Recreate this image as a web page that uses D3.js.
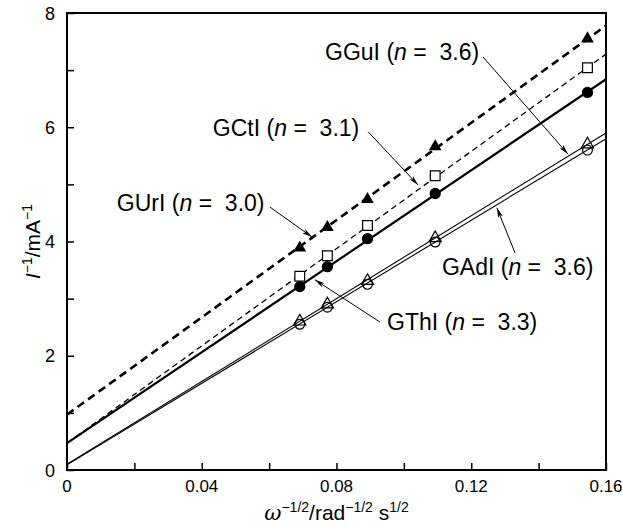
<!DOCTYPE html>
<html>
<head>
<meta charset="utf-8">
<script src="https://cdn.jsdelivr.net/npm/d3@7"></script>
<style>
  body { margin: 0; background: #fff; }
  svg { display: block; font-family: "Liberation Sans", Arial, sans-serif; }
</style>
</head>
<body>
<svg id="chart" width="622" height="530"></svg>
<script>
// rotation rates 2000..400 rpm -> omega^-1/2
const xValues = [0.0691, 0.0773, 0.0892, 0.1093, 0.1545];

const seriesNames = ["GUrI", "GCtI", "GGuI", "GAdI", "GThI"];
const seriesValues = [
  [3.89, 4.25, 4.74, 5.66, 7.55],
  [3.39, 3.75, 4.28, 5.15, 7.04],
  [3.21, 3.56, 4.05, 4.84, 6.61],
  [2.60, 2.90, 3.31, 4.06, 5.70],
  [2.55, 2.85, 3.25, 3.99, 5.60]
];
// fitted lines: value at x = 0 and x = 0.16
const fitStart = [0.97, 0.47, 0.47, 0.10, 0.09];
const fitEnd = [7.78, 7.28, 6.84, 5.90, 5.80];
const nValues = ["3.0", "3.1", "3.6", "3.6", "3.3"];

const xTicks = [0, 0.04, 0.08, 0.12, 0.16];
const yTicks = [0, 2, 4, 6, 8];

// label anchor and arrow (from -> to) in data units
const labelPos = [[0.0148, 4.53], [0.0433, 5.85], [0.0766, 7.18], [0.1113, 3.41], [0.095, 2.45]];
const arrowFrom = [[0.0603, 4.60], [0.0894, 5.92], [0.1235, 7.23], [0.133, 3.80], [0.0929, 2.59]];
const arrowTo = [[0.0727, 4.08], [0.1042, 4.99], [0.1487, 5.53], [0.1276, 4.59], [0.0736, 3.33]];

const width = 622;
const height = 530;
const margin = { top: 13, right: 16, bottom: 60, left: 67 };

const svg = d3.select("#chart");

const x = d3.scaleLinear().domain([0, 0.16]).range([margin.left, width - margin.right]);
const y = d3.scaleLinear().domain([0, 8]).range([height - margin.bottom, margin.top]);

// line styles per series
const styles = [
  { width: 2.6, dash: "8 5" },
  { width: 1.3, dash: "6 4" },
  { width: 2.2, dash: null },
  { width: 1.1, dash: null },
  { width: 1.1, dash: null }
];
const markers = [
  { type: d3.symbolTriangle, size: 70, fill: "#000" },
  { type: d3.symbolSquare, size: 95, fill: "#fff" },
  { type: d3.symbolCircle, size: 100, fill: "#000" },
  { type: d3.symbolTriangle, size: 65, fill: "none" },
  { type: d3.symbolCircle, size: 75, fill: "none" }
];

svg.append("defs")
  .append("marker")
  .attr("id", "arrow")
  .attr("viewBox", "0 0 12 6")
  .attr("refX", 12)
  .attr("refY", 3)
  .attr("markerWidth", 11)
  .attr("markerHeight", 5)
  .attr("markerUnits", "userSpaceOnUse")
  .attr("orient", "auto")
  .append("path")
  .attr("d", "M0,0 L12,3 L0,6 L3,3 Z")
  .attr("fill", "#000");

// fitted lines
const fitLine = d3.line().x((d) => x(d[0])).y((d) => y(d[1]));
svg.append("g")
  .selectAll("path")
  .data(seriesNames)
  .join("path")
  .attr("fill", "none")
  .attr("stroke", "#000")
  .attr("stroke-width", (d, i) => styles[i].width)
  .attr("stroke-dasharray", (d, i) => styles[i].dash)
  .attr("d", (d, i) => fitLine([[0, fitStart[i]], [0.16, fitEnd[i]]]));

// data markers
seriesNames.forEach((name, i) => {
  const m = markers[i];
  svg.append("g")
    .selectAll("path")
    .data(seriesValues[i])
    .join("path")
    .attr("transform", (v, j) => `translate(${x(xValues[j])},${y(v)})`)
    .attr("d", d3.symbol().type(m.type).size(m.size))
    .attr("fill", m.fill)
    .attr("stroke", "#000")
    .attr("stroke-width", m.fill === "#000" ? 0 : 1.2);
});

// axes (ticks inside)
const xAxis = svg.append("g")
  .attr("transform", `translate(0,${y(0)})`)
  .call(d3.axisBottom(x).tickValues(d3.range(0, 0.1601, 0.02)).tickSize(-7).tickFormat(""));
xAxis.select(".domain").remove();
xAxis.selectAll("line").attr("stroke-width", 1.5);

const yAxis = svg.append("g")
  .attr("transform", `translate(${x(0)},0)`)
  .call(d3.axisLeft(y).tickValues(d3.range(0, 8.01, 1)).tickSize(-7).tickFormat(""));
yAxis.select(".domain").remove();
yAxis.selectAll("line").attr("stroke-width", 1.5);

svg.append("g")
  .selectAll("text")
  .data(xTicks)
  .join("text")
  .attr("x", (d) => x(d))
  .attr("y", y(0) + 22)
  .attr("text-anchor", "middle")
  .attr("font-size", 17)
  .text((d) => (d === 0 ? "0" : d3.format(".2f")(d)));

svg.append("g")
  .selectAll("text")
  .data(yTicks)
  .join("text")
  .attr("x", x(0) - 12)
  .attr("y", (d) => y(d) + 6.5)
  .attr("text-anchor", "end")
  .attr("font-size", 18)
  .text((d) => d);

// frame
svg.append("rect")
  .attr("x", x(0))
  .attr("y", y(8))
  .attr("width", x(0.16) - x(0))
  .attr("height", y(0) - y(8))
  .attr("fill", "none")
  .attr("stroke", "#000")
  .attr("stroke-width", 2);

// axis titles
const xTitle = svg.append("text")
  .attr("x", (x(0) + x(0.16)) / 2)
  .attr("y", 520)
  .attr("text-anchor", "middle")
  .attr("font-size", 21);
xTitle.append("tspan").attr("font-family", "DejaVu Serif").attr("font-style", "italic").text("ω");
xTitle.append("tspan").attr("font-size", 14).attr("dy", -8).text("−1/2");
xTitle.append("tspan").attr("dy", 8).text("/rad");
xTitle.append("tspan").attr("font-size", 14).attr("dy", -8).text("−1/2");
xTitle.append("tspan").attr("dy", 8).text(" s");
xTitle.append("tspan").attr("font-size", 14).attr("dy", -8).text("1/2");

const yTitle = svg.append("text")
  .attr("transform", `translate(40,${(y(0) + y(8)) / 2}) rotate(-90)`)
  .attr("text-anchor", "middle")
  .attr("font-size", 21);
yTitle.append("tspan").attr("font-style", "italic").text("I");
yTitle.append("tspan").attr("font-size", 14).attr("dy", -8).text("−1");
yTitle.append("tspan").attr("dy", 8).text("/mA");
yTitle.append("tspan").attr("font-size", 14).attr("dy", -8).text("−1");

// annotations
seriesNames.forEach((name, i) => {
  const t = svg.append("text")
    .attr("x", x(labelPos[i][0]))
    .attr("y", y(labelPos[i][1]))
    .attr("font-size", 23)
    .style("white-space", "pre");
  t.append("tspan").text(`${name} (`);
  t.append("tspan").attr("font-style", "italic").text("n");
  t.append("tspan").text(` =  ${nValues[i]})`);

  svg.append("line")
    .attr("x1", x(arrowFrom[i][0]))
    .attr("y1", y(arrowFrom[i][1]))
    .attr("x2", x(arrowTo[i][0]))
    .attr("y2", y(arrowTo[i][1]))
    .attr("stroke", "#000")
    .attr("stroke-width", 1)
    .attr("marker-end", "url(#arrow)");
});
</script>
</body>
</html>
